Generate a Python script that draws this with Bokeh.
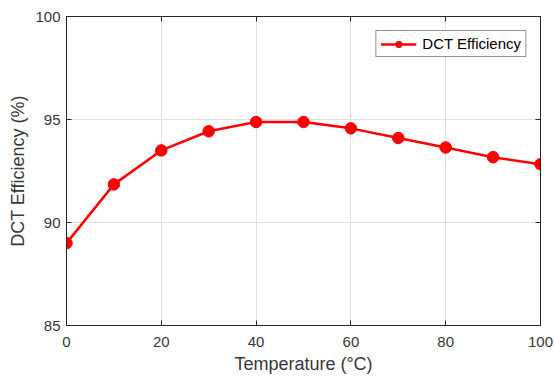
from bokeh.plotting import figure
from bokeh.models import LinearAxis, FixedTicker, Range1d, Legend, LegendItem
from bokeh.embed import file_html
from bokeh.resources import INLINE

temperature = [0, 10, 20, 30, 40, 50, 60, 70, 80, 90, 100]
efficiency = [89.0, 91.85, 93.5, 94.43, 94.88, 94.88, 94.57, 94.1, 93.64, 93.17, 92.83]
x_ticks = [0, 20, 40, 60, 80, 100]
y_ticks = [85, 90, 95, 100]

FONT = "Liberation Sans"
DARK = "#262626"
TEXT = "#383838"

p = figure(width=554, height=378, output_backend="svg", toolbar_location=None,
           x_range=Range1d(0, 100), y_range=Range1d(85, 100),
           min_border_left=66, min_border_right=14, min_border_top=16, min_border_bottom=53,
           x_axis_label="Temperature (°C)", y_axis_label="DCT Efficiency (%)")
p.background_fill_color = "white"
p.border_fill_color = "white"
p.outline_line_color = DARK
p.outline_line_width = 1

for ax, ticks in ((p.xaxis[0], x_ticks), (p.yaxis[0], y_ticks)):
    ax.ticker = FixedTicker(ticks=ticks)
    ax.major_tick_in = 5
    ax.major_tick_out = 0
    ax.minor_tick_in = 0
    ax.minor_tick_out = 0
    ax.axis_line_color = DARK
    ax.major_tick_line_color = DARK
    ax.major_label_text_font = FONT
    ax.major_label_text_font_size = "15px"
    ax.major_label_text_color = TEXT
    ax.axis_label_text_font = FONT
    ax.axis_label_text_font_size = "18px"
    ax.axis_label_text_font_style = "normal"
    ax.axis_label_text_color = TEXT
p.xaxis[0].major_label_standoff = 11
p.xaxis[0].axis_label_standoff = 4
p.yaxis[0].major_label_standoff = 6
p.yaxis[0].axis_label_standoff = 4

top = LinearAxis(ticker=FixedTicker(ticks=x_ticks), major_tick_in=5, major_tick_out=0,
                 minor_tick_in=0, minor_tick_out=0, axis_line_color=DARK,
                 major_tick_line_color=DARK, major_label_text_font_size="1px",
                 major_label_text_color=None, major_label_standoff=0)
right = LinearAxis(ticker=FixedTicker(ticks=y_ticks), major_tick_in=5, major_tick_out=0,
                   minor_tick_in=0, minor_tick_out=0, axis_line_color=DARK,
                   major_tick_line_color=DARK, major_label_text_font_size="1px",
                   major_label_text_color=None, major_label_standoff=0)
p.add_layout(top, "above")
p.add_layout(right, "right")

p.xgrid.ticker = FixedTicker(ticks=x_ticks)
p.ygrid.ticker = FixedTicker(ticks=y_ticks)
p.grid.grid_line_color = "#e0e0e0"
p.grid.grid_line_width = 1

ln = p.line(temperature, efficiency, line_color="#ff0000", line_width=2.5)
sc = p.scatter(temperature, efficiency, size=11.5, fill_color="#ff0000", line_color="#ff0000")

legend = Legend(items=[LegendItem(label="DCT Efficiency", renderers=[ln, sc])],
                location="top_right")
legend.margin = 14
legend.padding = 4
legend.spacing = 0
legend.glyph_width = 36
legend.glyph_height = 16
legend.label_text_font = FONT
legend.label_text_font_size = "15px"
legend.label_text_color = "black"
legend.label_standoff = 6
legend.border_line_color = DARK
legend.border_line_width = 1
legend.background_fill_alpha = 1
p.add_layout(legend, "center")

open("out.html", "w").write(file_html(p, INLINE))
